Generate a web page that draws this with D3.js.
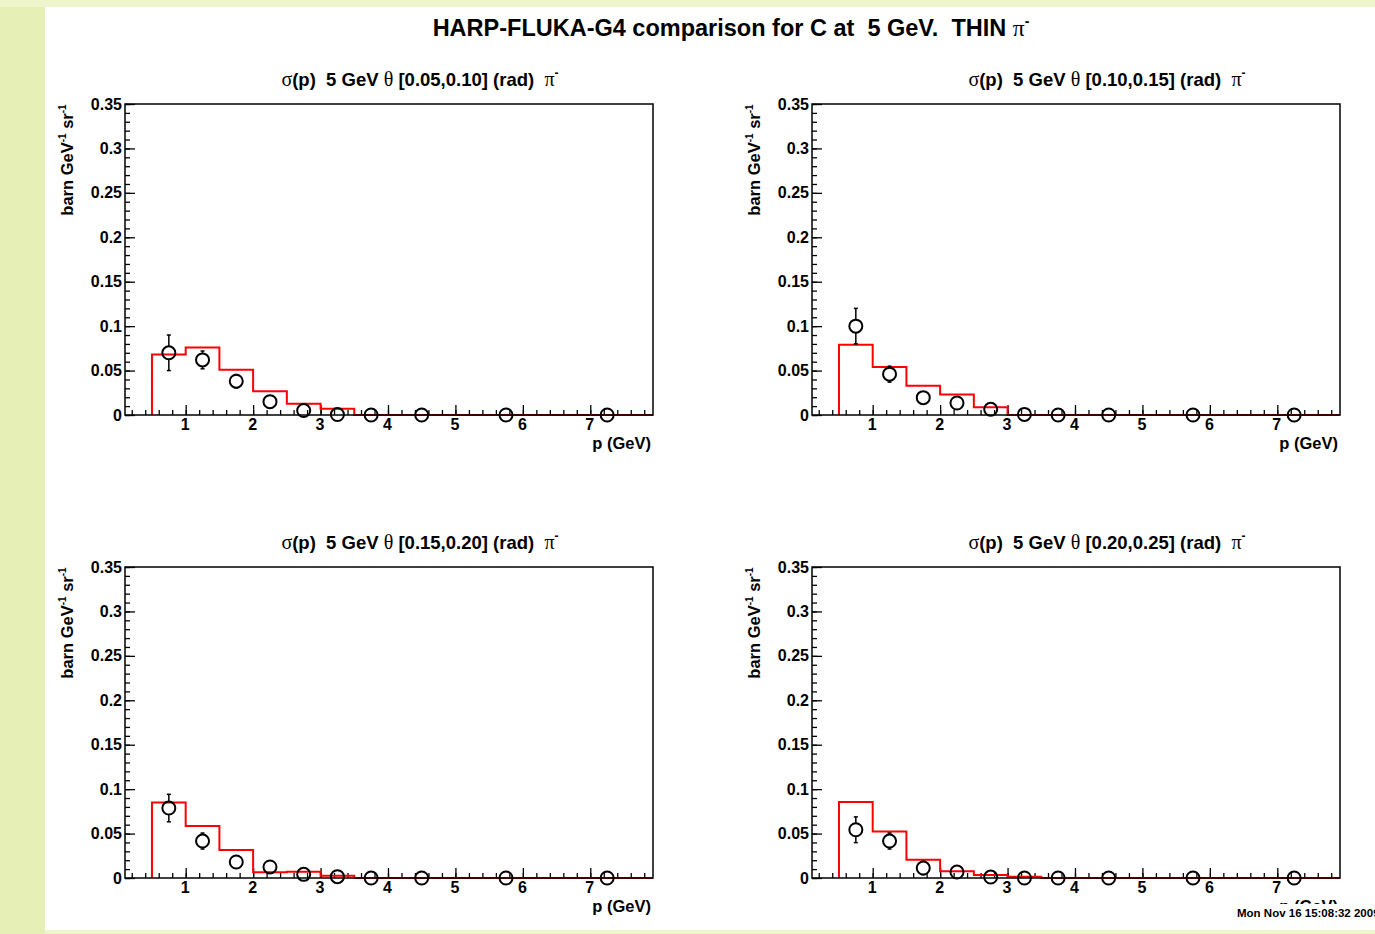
<!DOCTYPE html>
<html lang="en">
<meta charset="utf-8">
<title>HARP-FLUKA-G4 comparison</title>
<script src="https://d3js.org/d3.v7.min.js"></script>
<body>
<div id="chart"></div>
</body>
<style>
body {
  margin: 0;
  background-color: #e6efb6;
}
#chart {
  position: relative;
}
.lbl {
  font-family: "Liberation Sans", Arial, Helvetica, sans-serif;
  font-weight: bold;
  fill: black;
  white-space: pre;
}
.greek {
  font-family: "Liberation Serif", "Times New Roman", serif;
  font-weight: normal;
}
.tick text {
  font-family: "Liberation Sans", Arial, Helvetica, sans-serif;
  font-weight: bold;
  font-size: 16px;
  fill: black;
}
.tick line {
  stroke: black;
  stroke-width: 1.3;
}
</style>

<script>
    // ---------------------------//
    //       DATA                 //
    // ---------------------------//

    // theta bins (rad) of the four pads
    let thetaBins = ["[0.05,0.10]", "[0.10,0.15]", "[0.15,0.20]", "[0.20,0.25]"];

    // HARP points: momentum bin centres (GeV)
    let pCentres = [0.75, 1.25, 1.75, 2.25, 2.75, 3.25, 3.75, 4.5, 5.75, 7.25];

    // HARP cross sections (barn GeV^-1 sr^-1) and their errors, one array per theta bin
    let harp1 = [0.070, 0.062, 0.038, 0.015, 0.005, 0.0005, 0, 0, 0, 0];
    let harpErr1 = [0.020, 0.010, 0.0075, 0.003, 0.002, 0.001, 0, 0, 0, 0];
    let harp2 = [0.100, 0.046, 0.0195, 0.0135, 0.0064, 0.0007, 0, 0, 0, 0];
    let harpErr2 = [0.020, 0.009, 0.0055, 0.004, 0.002, 0.001, 0, 0, 0, 0];
    let harp3 = [0.0787, 0.0416, 0.018, 0.0124, 0.0041, 0.0015, 0, 0, 0, 0];
    let harpErr3 = [0.0155, 0.009, 0.004, 0.003, 0.001, 0.001, 0, 0, 0, 0];
    let harp4 = [0.0543, 0.0416, 0.0112, 0.0067, 0.0011, 0, 0, 0, 0, 0];
    let harpErr4 = [0.0145, 0.009, 0.0075, 0.003, 0.001, 0, 0, 0, 0, 0];

    // simulation histogram: bin edges (GeV) and contents
    let histEdges = [0.5, 1, 1.5, 2, 2.5, 3, 3.5, 4, 5, 6.5, 8];
    let sim1 = [0.068, 0.076, 0.051, 0.0266, 0.0127, 0.0071, 0, 0, 0, 0];
    let sim2 = [0.079, 0.054, 0.033, 0.023, 0.0086, 0, 0, 0, 0, 0];
    let sim3 = [0.085, 0.0584, 0.0315, 0.0064, 0.0071, 0.0026, 0, 0, 0, 0];
    let sim4 = [0.0854, 0.0524, 0.0206, 0.0075, 0.0034, 0.0015, 0, 0, 0, 0];

    // axis ticks
    let xMajor = [1, 2, 3, 4, 5, 6, 7];
    let yMajor = [0, 0.05, 0.1, 0.15, 0.2, 0.25, 0.3, 0.35];

    let harpSets = [harp1, harp2, harp3, harp4];
    let errSets = [harpErr1, harpErr2, harpErr3, harpErr4];
    let simSets = [sim1, sim2, sim3, sim4];

    // ---------------------------//
    //       CANVAS               //
    // ---------------------------//
    let W = 1375, H = 934;
    let svg = d3.select("#chart")
      .append("svg")
        .attr("width", W)
        .attr("height", H);

    // the greenish surround and the white canvas
    svg.append("rect").attr("x", 0).attr("y", 0).attr("width", W).attr("height", 7).attr("fill", "#eef5cb");
    svg.append("rect").attr("x", 45).attr("y", 7).attr("width", W - 45).attr("height", 923).attr("fill", "white");

    // main title
    let title = svg.append("text")
      .attr("class", "lbl")
      .attr("x", 731)
      .attr("y", 36)
      .attr("text-anchor", "middle")
      .style("font-size", "23.5px");
    title.append("tspan").text("HARP-FLUKA-G4 comparison for C at  5 GeV.  THIN ");
    title.append("tspan").attr("class", "greek").text("π");
    title.append("tspan").attr("dy", -10).style("font-size", "14px").text("-");

    // pad frames (left, top) and size
    let pads = [[125, 104], [812, 104], [125, 567], [812, 567]];
    let fw = 528, fh = 311;

    let x = d3.scaleLinear().domain([0.1, 7.93]).range([0, fw]);
    let y = d3.scaleLinear().domain([0, 0.35]).range([fh, 0]);

    pads.forEach(function(pad, i) {
      let g = svg.append("g")
        .attr("transform", "translate(" + pad[0] + "," + pad[1] + ")");

      g.append("clipPath").attr("id", "clip" + i)
        .append("rect").attr("x", 0).attr("y", -2).attr("width", fw).attr("height", fh + 4);

      // pad title
      let t = g.append("text")
        .attr("class", "lbl")
        .attr("x", fw / 2 + 31)
        .attr("y", -18)
        .attr("text-anchor", "middle")
        .style("font-size", "18.5px");
      t.append("tspan").attr("class", "greek").style("font-size", "20px").text("σ");
      t.append("tspan").text("(p)  5 GeV ");
      t.append("tspan").attr("class", "greek").style("font-size", "20px").text("θ");
      t.append("tspan").text(" " + thetaBins[i] + " (rad)  ");
      t.append("tspan").attr("class", "greek").style("font-size", "20px").text("π");
      t.append("tspan").attr("dy", -9).style("font-size", "12px").text("-");

      // minor ticks
      g.append("g")
        .attr("transform", "translate(0," + fh + ")")
        .call(d3.axisBottom(x).tickValues(d3.range(0.2, 7.9, 0.2)).tickSize(-5).tickFormat(""))
        .call(a => a.select(".domain").remove());
      g.append("g")
        .call(d3.axisLeft(y).tickValues(d3.range(0, 0.3501, 0.01)).tickSize(-5).tickFormat(""))
        .call(a => a.select(".domain").remove());

      // major ticks and labels
      g.append("g")
        .attr("transform", "translate(0," + fh + ")")
        .call(d3.axisBottom(x).tickValues(xMajor).tickSize(-10).tickPadding(4).tickFormat(d3.format("d")))
        .call(a => a.select(".domain").remove())
        .call(a => a.selectAll(".tick text").attr("dx", -1));
      g.append("g")
        .call(d3.axisLeft(y).tickValues(yMajor).tickSize(-10).tickPadding(3).tickFormat(d3.format(".2~f")))
        .call(a => a.select(".domain").remove());

      // axis titles (the last one is partly hidden by the date box, as in ROOT)
      g.append("text")
        .attr("class", "lbl")
        .attr("x", fw - 2)
        .attr("y", fh + 34)
        .attr("text-anchor", "end")
        .style("font-size", "16.5px")
        .text("p (GeV)");

      let yl = g.append("text")
        .attr("class", "lbl")
        .attr("transform", "translate(-52," + 56 + ") rotate(-90)")
        .attr("text-anchor", "middle")
        .style("font-size", "16.5px");
      yl.append("tspan").text("barn GeV");
      yl.append("tspan").attr("dy", -7).style("font-size", "10px").text("-1");
      yl.append("tspan").attr("dy", 7).text(" sr");
      yl.append("tspan").attr("dy", -7).style("font-size", "10px").text("-1");

      // simulation histogram as a step line
      let sim = simSets[i];
      let pts = [[histEdges[0], 0]];
      sim.forEach(function(v, k) {
        pts.push([histEdges[k], v]);
        pts.push([histEdges[k + 1], v]);
      });
      g.append("path")
        .attr("clip-path", "url(#clip" + i + ")")
        .attr("d", d3.line().x(d => x(d[0])).y(d => y(d[1]))(pts))
        .attr("fill", "none")
        .attr("stroke", "#ff0000")
        .attr("stroke-width", 2);

      // frame
      g.append("rect")
        .attr("width", fw)
        .attr("height", fh)
        .attr("fill", "none")
        .attr("stroke", "black")
        .attr("stroke-width", 1.5);

      // HARP points: open circles with error bars drawn outside the marker
      let r = 6.5;
      let harp = harpSets[i], err = errSets[i];
      let pg = g.append("g");
      harp.forEach(function(v, k) {
        let cx = x(pCentres[k]), cy = y(v);
        let e = y(0) - y(err[k]);
        if (e > r) {
          [[cy - r, cy - e], [cy + r, cy + e]].forEach(function(s) {
            pg.append("line").attr("x1", cx).attr("x2", cx).attr("y1", s[0]).attr("y2", s[1])
              .attr("stroke", "black").attr("stroke-width", 1.5);
            pg.append("line").attr("x1", cx - 2).attr("x2", cx + 2).attr("y1", s[1]).attr("y2", s[1])
              .attr("stroke", "black").attr("stroke-width", 1.5);
          });
        }
        pg.append("circle")
          .attr("cx", cx)
          .attr("cy", cy)
          .attr("r", r)
          .attr("fill", "none")
          .attr("stroke", "black")
          .attr("stroke-width", 2);
      });
    });

    // date stamp, its white box hides part of the last axis title
    svg.append("rect").attr("x", 1232).attr("y", 904).attr("width", 143).attr("height", 20).attr("fill", "white");
    svg.append("text")
      .attr("class", "lbl")
      .attr("x", 1237)
      .attr("y", 917)
      .style("font-size", "11.5px")
      .text("Mon Nov 16 15:08:32 2009");

    // bottom strip of the surround
    svg.append("rect").attr("x", 45).attr("y", 930).attr("width", W - 45).attr("height", 4).attr("fill", "#eef5cb");
</script>
</html>
